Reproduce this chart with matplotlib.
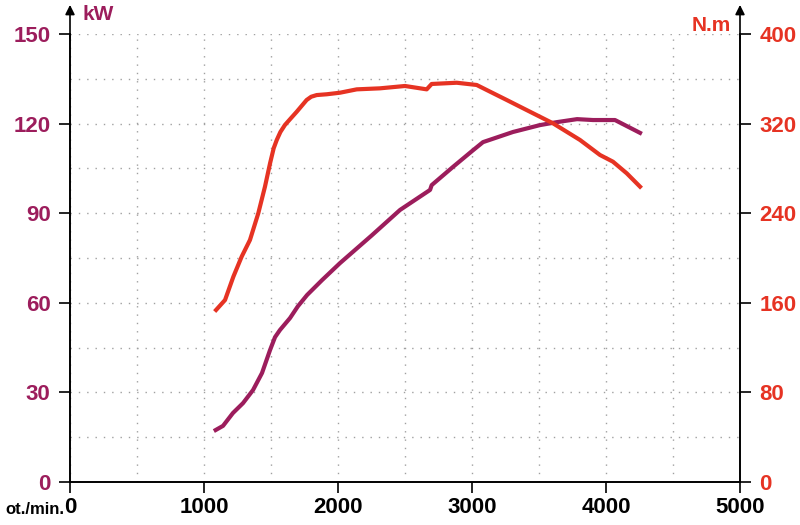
import matplotlib.pyplot as plt
from matplotlib import font_manager

# engine power curve (kW) vs rpm
rpm_kw = [1087, 1142, 1216, 1291, 1366, 1433, 1493, 1530, 1567, 1642, 1700, 1769, 1881, 2015,
          2250, 2463, 2687, 2699, 2858, 3000, 3082, 3306, 3507, 3634, 3784, 3903, 4067, 4254]
kw = [17.4, 18.8, 23.1, 26.4, 30.8, 36.5, 44.2, 48.5, 50.9, 54.9, 58.8, 62.6, 67.6, 73.3,
      82.5, 91.1, 97.8, 99.4, 105.5, 110.8, 113.8, 117.2, 119.5, 120.5, 121.5, 121.2, 121.2, 116.9]

# torque curve (N.m) vs rpm
rpm_nm = [1090, 1157, 1219, 1281, 1343, 1405, 1455, 1493, 1520, 1543, 1570, 1604, 1650, 1692,
          1766, 1800, 1841, 1916, 2015, 2140, 2313, 2500, 2662, 2699, 2886, 3035, 3110, 3259,
          3408, 3604, 3806, 3955, 4052, 4155, 4254]
nm = [153.6, 162.5, 183.3, 201.2, 216.1, 239.9, 263.7, 284.6, 298.0, 305.4, 312.5, 318.8,
      325.0, 330.6, 341.1, 344.0, 345.5, 346.2, 347.6, 350.6, 351.5, 353.6, 350.6, 355.4,
      356.5, 354.5, 350.0, 341.1, 332.1, 320.3, 305.4, 292.0, 286.0, 275.6, 263.7]

kw_ticks = [0, 30, 60, 90, 120, 150]
nm_ticks = [0, 80, 160, 240, 320, 400]
rpm_ticks = [0, 1000, 2000, 3000, 4000, 5000]

PURPLE = "#9c1d5c"
RED = "#e63323"

names = {f.name for f in font_manager.fontManager.ttflist}
fam = "Liberation Sans Narrow" if "Liberation Sans Narrow" in names else "Liberation Sans"
plt.rcParams["font.family"] = [fam, "DejaVu Sans"]
plt.rcParams["font.weight"] = "bold"

fig = plt.figure(figsize=(8, 5.25), dpi=100)
ax = fig.add_axes([0.0875, 0.0819, 0.8375, 0.8533])
ax2 = ax.twinx()

ax.plot(rpm_kw, kw, color=PURPLE, lw=3, solid_joinstyle="round", zorder=3)
ax2.plot(rpm_nm, nm, color=RED, lw=3, solid_joinstyle="round", zorder=3)

ax.set_xlim(0, 5000)
ax.set_ylim(0, 150)
ax2.set_ylim(0, 400)

ax.set_xticks(rpm_ticks)
ax.set_xticks(range(500, 5000, 1000), minor=True)
ax.set_yticks(kw_ticks)
ax.set_yticks(range(15, 150, 30), minor=True)
ax2.set_yticks(nm_ticks)

ax.grid(True, which="both", color="#a0a0a0", linestyle=(0, (1, 5)), lw=1)
ax.tick_params(which="minor", length=0)
ax.tick_params(axis="x", labelsize=16, length=8, width=1.2, pad=3, labelcolor="black")
ax.tick_params(axis="y", labelsize=16, length=8, width=1.2, pad=6, labelcolor=PURPLE)
ax2.tick_params(axis="y", labelsize=16, length=8, width=1.2, pad=6, labelcolor=RED)

for a in (ax, ax2):
    a.spines["top"].set_visible(False)
    for s in a.spines.values():
        s.set_linewidth(1.2)

# arrows on top of the vertical axes
for xa in (0, 1):
    ax.annotate("", xy=(xa, 1.065), xytext=(xa, 0.99), xycoords="axes fraction",
                arrowprops=dict(arrowstyle="-|>", color="black", lw=1.2,
                                mutation_scale=14, shrinkA=0, shrinkB=0),
                annotation_clip=False)

fig.text(0.103, 0.972, "kW", color=PURPLE, fontsize=15, fontweight="bold", ha="left", va="center")
fig.text(0.913, 0.952, "N.m", color=RED, fontsize=15, fontweight="bold", ha="right", va="center")
fig.text(0.007, 0.03, "ot./min.", color="black", fontsize=12, fontweight="bold", ha="left", va="center")

fig.savefig("out.png", dpi=100)
